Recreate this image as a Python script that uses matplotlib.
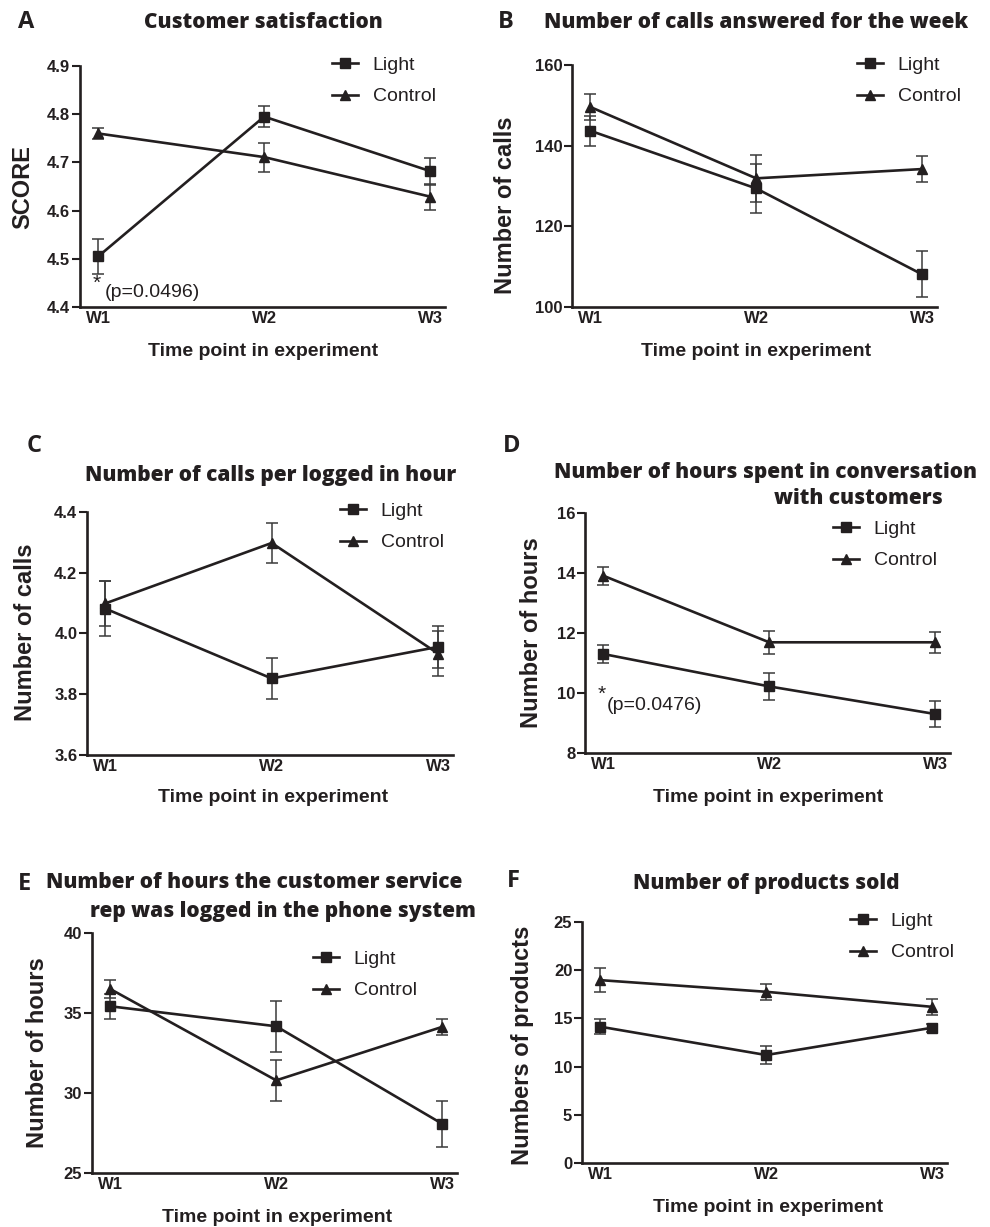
import numpy as np
import matplotlib
matplotlib.use("Agg")
import matplotlib.pyplot as plt

#%%
# values (mean, error bar half-length)
weeks = ["W1", "W2", "W3"]

a_light = [4.505, 4.795, 4.682]
a_light_err = [0.036, 0.021, 0.028]
a_control = [4.760, 4.711, 4.629]
a_control_err = [0.012, 0.030, 0.027]

b_light = [143.7, 129.4, 108.1]
b_light_err = [3.7, 6.0, 5.7]
b_control = [149.6, 131.9, 134.2]
b_control_err = [3.3, 5.8, 3.3]

c_light = [4.082, 3.852, 3.956]
c_light_err = [0.090, 0.067, 0.070]
c_control = [4.099, 4.298, 3.934]
c_control_err = [0.075, 0.065, 0.075]

d_light = [11.30, 10.22, 9.30]
d_light_err = [0.30, 0.45, 0.43]
d_control = [13.91, 11.69, 11.69]
d_control_err = [0.30, 0.38, 0.35]

e_light = [35.42, 34.17, 28.08]
e_light_err = [0.77, 1.60, 1.45]
e_control = [36.50, 30.79, 34.13]
e_control_err = [0.55, 1.30, 0.50]

f_light = [14.14, 11.20, 14.03]
f_light_err = [0.75, 0.95, 0.40]
f_control = [18.97, 17.76, 16.20]
f_control_err = [1.25, 0.80, 0.85]

letters = ["A", "B", "C", "D", "E", "F"]
titles = [["Customer satisfaction"],
          ["Number of calls answered for the week"],
          ["Number of calls per logged in hour"],
          ["Number of hours spent in conversation", "with customers"],
          ["Number of hours the customer service", "rep was logged in the phone system"],
          ["Number of products sold"]]
ylabels = ["SCORE", "Number of calls", "Number of calls",
           "Number of hours", "Number of hours", "Numbers of products"]
yticks = [[4.4, 4.5, 4.6, 4.7, 4.8, 4.9], [100, 120, 140, 160],
          [3.6, 3.8, 4.0, 4.2, 4.4], [8, 10, 12, 14, 16],
          [25, 30, 35, 40], [0, 5, 10, 15, 20, 25]]
ytick_fmt = ["%.1f", "%d", "%.1f", "%d", "%d", "%d"]

light = [a_light, b_light, c_light, d_light, e_light, f_light]
light_err = [a_light_err, b_light_err, c_light_err, d_light_err, e_light_err, f_light_err]
control = [a_control, b_control, c_control, d_control, e_control, f_control]
control_err = [a_control_err, b_control_err, c_control_err, d_control_err, e_control_err, f_control_err]

#%%
W, H = 990, 1227
ink = "#231f20"

# layout in pixels: axes box (left, top, right, bottom)
boxes = [(80, 66, 445, 307), (572, 65, 937, 307),
         (87, 512, 453, 755), (585, 513, 950, 753),
         (92, 933, 457, 1173), (582, 922, 947, 1163)]
letter_xy = [(18, 22), (498, 22), (27, 446), (503, 446), (18, 884), (507, 881)]
title_xy = [[(263, 23)], [(756, 23)], [(271, 475)],
            [(766, 473), (858, 498)], [(254, 883), (283, 912)], [(766, 883)]]
ylabel_xy = [(23, 187), (506, 205), (26, 632), (531, 633), (38, 1053), (522, 1045)]
xlabel_xy = [(263, 352), (756, 352), (273, 798), (768, 798), (277, 1217), (768, 1207)]
legend_xy = [(332, 81), (857, 81), (340, 527), (833, 545), (313, 975), (850, 937)]

def fx(px):
    return px / W

def fy(py):
    return 1 - py / H

plt.rcParams["font.family"] = ["Liberation Sans", "DejaVu Sans"]
fig = plt.figure(figsize=(W / 100, H / 100), dpi=100)

x = np.arange(len(weeks))
for i in range(6):
    l, t, r, b = boxes[i]
    ax = fig.add_axes([fx(l), fy(b), fx(r) - fx(l), fy(t) - fy(b)])

    eb_l = ax.errorbar(x, light[i], yerr=light_err[i], color=ink, ecolor="#3a3a3a",
                       elinewidth=1.1, capsize=4, capthick=1.1, lw=1.9,
                       marker="s", ms=7.5)
    eb_c = ax.errorbar(x, control[i], yerr=control_err[i], color=ink, ecolor="#3a3a3a",
                       elinewidth=1.1, capsize=4, capthick=1.1, lw=1.9,
                       marker="^", ms=7)

    ax.set_xlim(-0.11, 2.09)
    ax.set_ylim(yticks[i][0], yticks[i][-1])
    ax.set_xticks(x)
    ax.set_xticklabels(weeks, fontsize=12, fontweight="bold", color=ink)
    ax.set_yticks(yticks[i])
    ax.set_yticklabels([ytick_fmt[i] % v for v in yticks[i]],
                       fontsize=12, fontweight="bold", color=ink)
    ax.tick_params(axis="x", length=0, pad=3)
    ax.tick_params(axis="y", length=6, width=1.5, color=ink, pad=1)
    for s in ["top", "right"]:
        ax.spines[s].set_visible(False)
    for s in ["left", "bottom"]:
        ax.spines[s].set_linewidth(1.9)
        ax.spines[s].set_color(ink)

    # axis labels
    ax.set_ylabel(ylabels[i], fontsize=17, fontweight="bold", color=ink)
    ax.yaxis.set_label_coords((ylabel_xy[i][0] - l) / (r - l),
                              (b - ylabel_xy[i][1]) / (b - t))
    ax.yaxis.label.set_verticalalignment("center")
    ax.yaxis.label.set_rotation_mode("anchor")
    ax.set_xlabel("Time point in experiment", fontsize=14, fontweight="bold", color=ink)
    ax.xaxis.set_label_coords((xlabel_xy[i][0] - l) / (r - l),
                              (b - xlabel_xy[i][1]) / (b - t))
    ax.xaxis.label.set_verticalalignment("center")

    leg = ax.legend([eb_l[0], eb_c[0]], ["Light", "Control"],
                    loc="center left", bbox_to_anchor=(fx(legend_xy[i][0]), fy(legend_xy[i][1])),
                    bbox_transform=fig.transFigure, frameon=False, fontsize=14,
                    borderpad=0, borderaxespad=0, handlelength=1.35, handletextpad=0.75,
                    labelspacing=0.7)
    for txt in leg.get_texts():
        txt.set_color(ink)

    # titles and panel letters
    for line, (tx, ty) in zip(titles[i], title_xy[i]):
        fig.text(fx(tx), fy(ty), line, ha="center", va="center", fontsize=15,
                 fontweight="heavy", family="Open Sans", color=ink)
    fig.text(fx(letter_xy[i][0]), fy(letter_xy[i][1]), letters[i], ha="left", va="center",
             fontsize=17, fontweight="bold", family="Open Sans", color=ink)

    if i == 0:
        ax.text(-0.01, 4.45, "*", fontsize=15, color=ink, ha="center", va="center")
        ax.text(0.04, 4.43, "(p=0.0496)", fontsize=14, color=ink, ha="left", va="center")
    if i == 3:
        ax.text(-0.01, 9.95, "*", fontsize=15, color=ink, ha="center", va="center")
        ax.text(0.02, 9.6, "(p=0.0476)", fontsize=14, color=ink, ha="left", va="center")

fig.savefig("out.png", dpi=100, facecolor="white")
